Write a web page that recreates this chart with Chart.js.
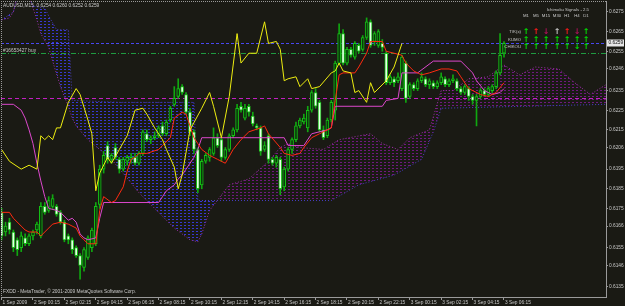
<!DOCTYPE html>
<html>
<head>
<meta charset="utf-8">
<script src="https://cdn.jsdelivr.net/npm/chart.js@4.4.1/dist/chart.umd.min.js"></script>
<style>
  html, body { margin: 0; padding: 0; background: #1a1a14; overflow: hidden; }
  canvas { display: block; }
</style>
</head>
<body>
<canvas id="c" width="625" height="306"></canvas>
<script>
// AUDUSD M15 con Ichimoku (lectura aproximada del gráfico de MT4)
const timeLabels = ['1 Sep 2009', '2 Sep 00:15', '2 Sep 02:15', '2 Sep 04:15', '2 Sep 06:15', '2 Sep 08:15',
  '2 Sep 10:15', '2 Sep 12:15', '2 Sep 14:15', '2 Sep 16:15', '2 Sep 18:15', '2 Sep 20:15', '2 Sep 22:15',
  '3 Sep 00:15', '3 Sep 02:15', '3 Sep 04:15', '3 Sep 06:15'];
const timeLabelBars = [0, 8, 16, 24, 32, 40, 48, 56, 64, 72, 80, 88, 96, 104, 112, 120, 128];
const priceTickLabels = ['0.6275', '0.6265', '0.6255', '0.6246', '0.6235', '0.6225', '0.6215', '0.6206',
  '0.6195', '0.6185', '0.6175', '0.6166', '0.6155', '0.6146', '0.6135'];

const opens = [.6173,.6163,.6168,.6163,.6159,.6155,.6160,.6157,.6161,.6164,.6161,.6176,.6174,.6176,.6176,.6173,.6168,.6161,.6159,.6155,
  .6151,.6145,.6150,.6155,.6157,.6177,.6195,.6207,.6200,.6206,.6200,.6195,.6199,.6200,.6201,.6198,.6203,.6213,.6210,.6211,
  .6212,.6217,.6213,.6220,.6228,.6232,.6237,.6233,.6224,.6214,.6205,.6187,.6199,.6201,.6203,.6211,.6210,.6201,.6205,.6212,
  .6215,.6227,.6221,.6227,.6222,.6217,.6216,.6205,.6212,.6200,.6198,.6200,.6186,.6195,.6205,.6210,.6217,.6219,.6216,.6225,
  .6234,.6229,.6215,.6212,.6220,.6225,.6249,.6264,.6249,.6256,.6252,.6258,.6256,.6262,.6270,.6260,.6258,.6259,.6254,.6239,
  .6241,.6240,.6236,.6249,.6232,.6238,.6236,.6240,.6241,.6238,.6239,.6237,.6239,.6241,.6238,.6240,.6240,.6236,.6234,.6236,
  .6232,.6230,.6232,.6235,.6233,.6235,.6237,.6244,.6254];
const highs = [.6175,.6168,.6170,.6164,.6160,.6163,.6162,.6162,.6164,.6168,.6178,.6178,.6181,.6182,.6177,.6174,.6169,.6162,.6160,.6156,
  .6152,.6155,.6161,.6165,.6178,.6197,.6204,.6209,.6203,.6208,.6201,.6201,.6202,.6203,.6203,.6204,.6215,.6215,.6212,.6214,
  .6217,.6219,.6220,.6227,.6237,.6241,.6238,.6234,.6226,.6215,.6206,.6200,.6203,.6206,.6216,.6213,.6211,.6206,.6213,.6216,
  .6228,.6229,.6228,.6228,.6224,.6218,.6217,.6209,.6213,.6201,.6202,.6201,.6196,.6206,.6211,.6219,.6221,.6223,.6227,.6235,
  .6236,.6230,.6217,.6221,.6230,.6250,.6269,.6266,.6257,.6257,.6260,.6259,.6263,.6272,.6271,.6265,.6266,.6261,.6255,.6243,
  .6242,.6244,.6253,.6250,.6239,.6239,.6241,.6244,.6242,.6241,.6240,.6240,.6244,.6242,.6241,.6243,.6241,.6237,.6238,.6237,
  .6233,.6233,.6236,.6236,.6237,.6238,.6245,.6264,.6260];
const lows = [.6159,.6161,.6162,.6153,.6151,.6153,.6156,.6156,.6159,.6162,.6160,.6172,.6173,.6175,.6171,.6167,.6158,.6157,.6152,.6150,
  .6139,.6143,.6149,.6153,.6156,.6175,.6193,.6198,.6198,.6200,.6193,.6194,.6197,.6198,.6197,.6197,.6202,.6209,.6208,.6210,
  .6211,.6212,.6212,.6219,.6227,.6231,.6233,.6223,.6212,.6203,.6183,.6185,.6198,.6199,.6202,.6206,.6199,.6200,.6204,.6211,
  .6214,.6224,.6220,.6222,.6217,.6215,.6202,.6204,.6198,.6197,.6196,.6182,.6184,.6194,.6203,.6209,.6216,.6218,.6214,.6224,
  .6226,.6214,.6210,.6211,.6219,.6220,.6248,.6248,.6248,.6252,.6251,.6254,.6255,.6261,.6257,.6258,.6257,.6255,.6238,.6238,
  .6237,.6239,.6235,.6229,.6231,.6235,.6235,.6239,.6237,.6236,.6236,.6236,.6238,.6237,.6237,.6239,.6235,.6233,.6233,.6230,
  .6228,.6217,.6231,.6232,.6232,.6234,.6236,.6243,.6252];
const closes = [.6161,.6166,.6164,.6155,.6154,.6161,.6157,.6161,.6163,.6167,.6176,.6173,.6179,.6180,.6172,.6168,.6159,.6159,.6154,.6151,
  .6146,.6154,.6160,.6164,.6176,.6195,.6202,.6200,.6202,.6201,.6195,.6200,.6201,.6201,.6198,.6203,.6214,.6210,.6211,.6212,
  .6216,.6213,.6219,.6226,.6231,.6236,.6234,.6224,.6214,.6205,.6185,.6199,.6202,.6205,.6211,.6207,.6201,.6205,.6212,.6215,
  .6226,.6225,.6226,.6224,.6218,.6216,.6204,.6207,.6200,.6198,.6201,.6185,.6195,.6205,.6210,.6217,.6220,.6221,.6225,.6234,
  .6227,.6215,.6211,.6220,.6229,.6249,.6264,.6249,.6256,.6253,.6259,.6255,.6262,.6270,.6258,.6264,.6265,.6257,.6239,.6242,
  .6239,.6242,.6252,.6231,.6238,.6236,.6240,.6242,.6238,.6240,.6237,.6239,.6242,.6238,.6240,.6241,.6236,.6234,.6237,.6232,
  .6230,.6232,.6235,.6233,.6236,.6237,.6244,.6253,.6259];

// Chikou (amarilla)
const chikouBars = [0,2,5,7,9,10,11,12,13,14,15,17,19,20,22,23,24,25,27,28,30,32,34,36,37,39,41,42,44,45,46,48,51,53,54,56,58,60,61,63,
  65,67,68,70,71,72,73,75,76,78,79,81,84,85,86,87,89,90,91,93,94,95,98,100,102];
const chikouVals = [.6205,.6199,.6195,.6197,.6195,.6212,.6210,.6212,.6210,.6216,.6216,.6229,.6236,.6233,.6220,.6213,.6184,.6193,.6201,.6198,
  .6205,.6212,.6225,.6226,.6223,.6216,.6210,.6205,.6196,.6185,.6192,.6215,.6226,.6234,.6227,.6211,.6232,.6264,.6249,.6254,
  .6254,.6270,.6259,.6260,.6256,.6240,.6241,.6242,.6237,.6241,.6236,.6237,.6244,.6245,.6249,.6245,.6244,.6234,.6235,.6229,
  .6239,.6234,.6240,.6247,.6259];
// Tenkan (roja)
const tenkanBars = [0,2,3,5,6,7,9,10,12,13,15,17,19,20,21,22,24,25,26,28,29,31,32,33,34,35,37,40,41,43,44,46,47,48,49,50,51,53,55,57,
  59,61,63,66,67,68,71,72,74,76,77,79,81,83,84,85,86,87,90,91,93,94,97,98,100,102,103,105,107,109,112,114,116,117,119,122,124,126,128];
const tenkanVals = [.6173,.6173,.6170,.6166,.6164,.6163,.6163,.6161,.6165,.6167,.6168,.6167,.6165,.6161,.6159,.6157,.6157,.6174,.6181,.6178,
  .6179,.6186,.6194,.6200,.6201,.6203,.6203,.6205,.6207,.6211,.6221,.6224,.6223,.6217,.6211,.6208,.6205,.6202,.6200,.6198,
  .6205,.6210,.6214,.6216,.6217,.6213,.6206,.6203,.6202,.6203,.6206,.6211,.6213,.6215,.6216,.6230,.6243,.6244,.6244,.6247,
  .6254,.6260,.6260,.6255,.6254,.6253,.6249,.6245,.6243,.6244,.6246,.6246,.6245,.6242,.6236,.6233,.6232,.6234,.6239];
// Kijun (rosa)
const kijunBars = [0,3,5,6,7,8,9,10,11,12,14,15,17,18,19,20,21,22,24,25,26,40,41,42,44,45,46,47,49,50,51,72,73,77,79,83,84,85,97,98,
  101,102,106,110,117,120,121,123,125,127,128];
const kijunVals = [.6228,.6228,.6225,.6221,.6215,.6208,.6198,.6189,.6181,.6175,.6174,.6173,.6169,.6170,.6168,.6162,.6160,.6159,.6160,.6170,
  .6178,.6178,.6181,.6184,.6187,.6190,.6192,.6195,.6201,.6205,.6211,.6211,.6207,.6207,.6213,.6215,.6216,.6227,.6227,.6230,
  .6231,.6244,.6244,.6250,.6250,.6244,.6240,.6235,.6233,.6234,.6236];
// Senkou A / B (nube punteada)
const spanABars = [0,2,3,4,7,8,9,10,12,13,15,17,18,19,22,28,33,35,40,44,48,50,51,53,58,63,68,71,73,76,82,86,94,97,101,104,109,112,115,119,
  124,128,132,136,142,146,150,154];
const spanAVals = [.6271,.6272,.6275,.6283,.6283,.6277,.6271,.6264,.6257,.6250,.6237,.6227,.6221,.6217,.6210,.6200,.6188,.6183,.6173,.6165,
  .6159,.6158,.6162,.6174,.6187,.6190,.6199,.6206,.6208,.6206,.6205,.6210,.6213,.6208,.6205,.6211,.6215,.6235,.6235,.6241,
  .6242,.6248,.6243,.6247,.6246,.6239,.6233,.6238];
const spanBBars = [0,3,4,7,8,11,12,14,17,18,30,44,49,50,76,84,91,100,107,110,112,154];
const spanBVals = [.6271,.6275,.6283,.6283,.6278,.6277,.6273,.6266,.6266,.6230,.6229,.6229,.6229,.6179,.6179,.6179,.6187,.6192,.6200,
  .6214,.6226,.6228];

const bidPrice = 0.6259;
const orderPrice = 0.6254;
const stopPrice = 0.6231;

const tfLabels = ['M1', 'M5', 'M15', 'M30', 'H1', 'H4', 'D1'];
const signalRows = ['T/K(x)', 'KUMO', 'CHIKOU'];
const signalDirs = [
  ['up', 'up', 'down', 'up', 'up', 'down', 'up'],
  ['up', 'up', 'up', 'up', 'up', 'up', 'up'],
  ['up', 'up', 'up', 'up', 'up', 'down', 'up'],
];
const signalColors = [
  ['#00e000', '#ff1a1a', '#b0105a', '#c8c8c8', '#ff1a1a', '#b0105a', '#00e000'],
  ['#00e000', '#00e000', '#00e000', '#00e000', '#00e000', '#00e000', '#00e000'],
  ['#00e000', '#00e000', '#00e000', '#00e000', '#00e000', '#00e000', '#00e000'],
];

const BG = '#1a1a14';
const TXT = '#c8c8c8';
const FRAME = '#9a9a9a';
const FONT = '"Liberation Sans", Arial, sans-serif';

Chart.defaults.font.family = FONT;
Chart.defaults.color = TXT;

const canvas = document.getElementById('c');
const ctx0 = canvas.getContext('2d');

// punteado de la nube: puntos 2x1 cada 4x3 px
function dotPattern(color) {
  const t = document.createElement('canvas');
  t.width = 4;
  t.height = 3;
  const g = t.getContext('2d');
  g.fillStyle = color;
  g.fillRect(0, 0, 2, 1);
  return ctx0.createPattern(t, 'repeat');
}
const purpleDots = dotPattern('#701880');
const blueDots = dotPattern('#3838d0');

const pts = (xs, ys) => xs.map((x, i) => ({ x, y: ys[i] }));
const isBull = (i) => closes[i] >= opens[i];
const bodies = opens.map((o, i) => ({ x: i, y: [o, closes[i]] }));
const wicks = lows.map((l, i) => ({ x: i, y: [l, highs[i]] }));

function hLine(c, a, y, color, dash) {
  const yy = Math.round(y) + 0.5;
  c.save();
  c.beginPath();
  c.setLineDash(dash);
  c.strokeStyle = color;
  c.lineWidth = 1;
  c.moveTo(a.left, yy);
  c.lineTo(a.right, yy);
  c.stroke();
  c.restore();
}

function txt(c, s, x, y, color, font, align) {
  c.font = font;
  c.fillStyle = color;
  c.textAlign = align || 'left';
  c.textBaseline = 'middle';
  c.fillText(s, x, y);
}

const overlay = {
  id: 'overlay',
  beforeDraw(chart) {
    const c = chart.ctx;
    c.save();
    c.fillStyle = BG;
    c.fillRect(0, 0, chart.width, chart.height);
    c.restore();
  },
  beforeDatasetsDraw(chart) {
    const { ctx: c, chartArea: a, scales: { y } } = chart;
    hLine(c, a, y.getPixelForValue(stopPrice), '#c21fc2', [4, 3]);
    hLine(c, a, y.getPixelForValue(orderPrice), '#1f9a40', [5, 2, 1, 2]);
    hLine(c, a, y.getPixelForValue(bidPrice), '#4848f0', [3, 2]);
  },
  afterDraw(chart) {
    const { ctx: c, chartArea: a, scales: { y } } = chart;
    const small = '4.8px ' + FONT;
    c.save();
    // marco superior / izquierdo punteado
    c.strokeStyle = FRAME;
    c.lineWidth = 1;
    c.setLineDash([1, 1]);
    c.beginPath();
    c.moveTo(a.left, a.top + 0.5);
    c.lineTo(a.right, a.top + 0.5);
    c.moveTo(a.left + 0.5, a.top);
    c.lineTo(a.left + 0.5, a.bottom);
    c.stroke();
    c.setLineDash([]);

    txt(c, 'AUDUSD,M15  0.6254 0.6260 0.6252 0.6259', 3, 5.5, TXT, small);
    txt(c, '#16653427 buy', 3, y.getPixelForValue(orderPrice) - 3, TXT, small);
    txt(c, 'FXDD - MetaTrader, \u00a9 2001-2009 MetaQuotes Software Corp.', 3, 292, TXT, small);

    // tabla de señales
    const colX = [526, 536, 546, 557, 567, 577, 586];
    const rowY = [32, 39.5, 47];
    txt(c, 'Ichimoku Signals - 2.5', 589, 10, TXT, '4.3px ' + FONT, 'right');
    tfLabels.forEach((l, j) => txt(c, l, colX[j], 16, TXT, '4.3px ' + FONT, 'center'));
    signalRows.forEach((r, i) => {
      txt(c, r, 521, rowY[i], TXT, '4.3px ' + FONT, 'right');
      signalDirs[i].forEach((d, j) => {
        txt(c, d === 'up' ? '\u2191' : '\u2193', colX[j], rowY[i], signalColors[i][j], 'bold 8px "DejaVu Sans"', 'center');
      });
    });

    // caja del precio actual
    const yb = Math.round(y.getPixelForValue(bidPrice));
    c.fillStyle = '#e6e6e6';
    c.fillRect(607, yb - 3.5, 17, 7);
    txt(c, bidPrice.toFixed(4), 608.5, yb, '#101010', small);
    c.restore();
  },
};

new Chart(canvas, {
  type: 'bar',
  data: {
    datasets: [
      { type: 'line', label: 'Chikou', data: pts(chikouBars, chikouVals), borderColor: '#eeee10', borderWidth: 1,
        pointRadius: 0, tension: 0, fill: false },
      { type: 'line', label: 'Tenkan', data: pts(tenkanBars, tenkanVals), borderColor: '#ff2a10', borderWidth: 1,
        pointRadius: 0, tension: 0, fill: false },
      { type: 'line', label: 'Kijun', data: pts(kijunBars, kijunVals), borderColor: '#dc48cc', borderWidth: 1,
        pointRadius: 0, tension: 0, fill: false },
      { type: 'bar', label: 'Body', data: bodies,
        backgroundColor: (ctx) => (isBull(ctx.dataIndex) ? '#0a3a0a' : '#e6ffe6'),
        borderColor: '#16c016', borderWidth: 1, borderSkipped: false, barThickness: 3, minBarLength: 1, grouped: false },
      { type: 'bar', label: 'Wick', data: wicks, backgroundColor: '#10a810', barThickness: 1, grouped: false },
      { type: 'line', label: 'Senkou A', data: pts(spanABars, spanAVals), borderColor: '#a030a8', borderWidth: 1,
        borderDash: [1, 2], pointRadius: 0, tension: 0,
        fill: { target: '+1', above: purpleDots, below: blueDots } },
      { type: 'line', label: 'Senkou B', data: pts(spanBBars, spanBVals), borderColor: '#4a40c8', borderWidth: 1,
        borderDash: [1, 2], pointRadius: 0, tension: 0, fill: false },
    ],
  },
  options: {
    responsive: false,
    animation: false,
    devicePixelRatio: 1,
    events: [],
    layout: { padding: { left: 1, top: 1, right: 0, bottom: 0 } },
    plugins: { legend: { display: false }, tooltip: { enabled: false } },
    scales: {
      x: {
        type: 'linear', min: -0.15, max: 153.99, offset: false,
        afterBuildTicks: (s) => { s.ticks = timeLabelBars.map((v) => ({ value: v })); },
        afterFit: (s) => { s.height = 9; s.paddingLeft = 0; s.paddingRight = 0; },
        ticks: { autoSkip: false, maxRotation: 0, minRotation: 0, align: 'start', padding: 0, labelOffset: 1,
          color: TXT, font: { size: 4.8 }, callback: (v, i) => timeLabels[i] },
        grid: { drawOnChartArea: false, offset: false, color: FRAME, tickLength: 3 },
        border: { color: FRAME },
      },
      y: {
        type: 'linear', position: 'right', min: 0.61299, max: 0.62806,
        afterBuildTicks: (s) => { s.ticks = priceTickLabels.map((t) => ({ value: parseFloat(t) })); },
        afterFit: (s) => { s.width = 19; s.paddingTop = 0; s.paddingBottom = 0; },
        ticks: { padding: 1, color: TXT, font: { size: 4.8 }, callback: (v, i) => priceTickLabels[i] },
        grid: { drawOnChartArea: false, color: FRAME, tickLength: 2 },
        border: { color: FRAME },
      },
    },
  },
  plugins: [overlay],
});
</script>
</body>
</html>
